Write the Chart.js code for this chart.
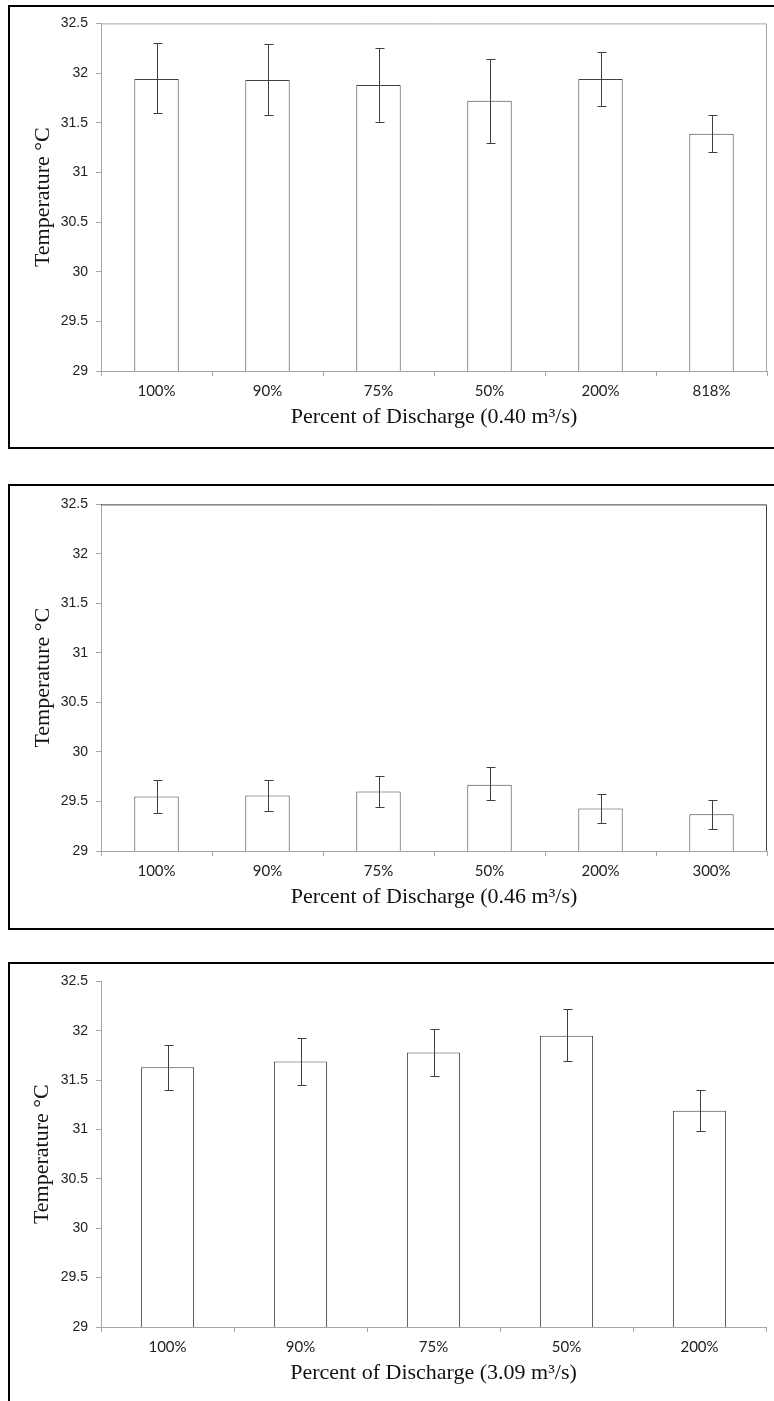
<!DOCTYPE html>
<html>
<head>
<meta charset="utf-8">
<script src="https://cdn.jsdelivr.net/npm/chart.js"></script>
<style>
  body { margin: 0; background: #fff; width: 774px; height: 1401px; overflow: hidden; position: relative; }
  .box { position: absolute; left: 8px; width: 790px; border: 2px solid #000; border-right: none; box-sizing: border-box; }
  canvas { position: absolute; left: 10px; }
</style>
</head>
<body>
<div class="box" style="top:5px;height:444px"></div>
<div class="box" style="top:484px;height:446px"></div>
<div class="box" style="top:962px;height:500px"></div>
<canvas id="chart1" width="764" height="439" style="top:7px"></canvas>
<canvas id="chart2" width="764" height="438" style="top:488px"></canvas>
<canvas id="chart3" width="764" height="437" style="top:965px"></canvas>
<script>
// Panel 1 - 0.40 m3/s
const labels1 = ['100%', '90%', '75%', '50%', '200%', '818%'];
const temp1 = [31.94, 31.93, 31.88, 31.72, 31.94, 31.39];
const low1 = [31.60, 31.58, 31.51, 31.30, 31.67, 31.21];
const high1 = [32.30, 32.29, 32.25, 32.14, 32.21, 31.58];

// Panel 2 - 0.46 m3/s
const labels2 = ['100%', '90%', '75%', '50%', '200%', '300%'];
const temp2 = [29.55, 29.56, 29.60, 29.67, 29.43, 29.37];
const low2 = [29.38, 29.40, 29.44, 29.51, 29.28, 29.22];
const high2 = [29.72, 29.72, 29.76, 29.85, 29.58, 29.52];

// Panel 3 - 3.09 m3/s
const labels3 = ['100%', '90%', '75%', '50%', '200%'];
const temp3 = [31.63, 31.69, 31.78, 31.95, 31.19];
const low3 = [31.40, 31.45, 31.54, 31.69, 30.98];
const high3 = [31.86, 31.93, 32.02, 32.22, 31.40];

const yTicks = { min: 29, max: 32.5, step: 0.5 };

// error bars drawn from the dataset's low/high arrays
const errorBarPlugin = {
  id: 'errorBars',
  afterDatasetsDraw(chart) {
    const ds = chart.data.datasets[0];
    const meta = chart.getDatasetMeta(0);
    const y = chart.scales.y;
    const ctx = chart.ctx;
    ctx.save();
    ctx.strokeStyle = '#404040';
    ctx.lineWidth = 1;
    meta.data.forEach((bar, i) => {
      const x = Math.round(bar.x) + 0.5;
      const top = Math.round(y.getPixelForValue(ds.errHigh[i])) + 0.5;
      const bot = Math.round(y.getPixelForValue(ds.errLow[i])) + 0.5;
      ctx.beginPath();
      ctx.moveTo(x, top); ctx.lineTo(x, bot);
      ctx.moveTo(x - 4, top); ctx.lineTo(x + 5, top);
      ctx.moveTo(x - 4, bot); ctx.lineTo(x + 5, bot);
      ctx.stroke();
    });
    ctx.restore();
  }
};

// top + right border of the plot area (panels 1 and 2 only)
const framePlugin = {
  id: 'frame',
  afterDraw(chart, args, opts) {
    if (!opts.color) return;
    const { ctx, chartArea: a } = chart;
    ctx.save();
    ctx.strokeStyle = opts.color;
    ctx.lineWidth = 1;
    ctx.beginPath();
    ctx.moveTo(a.left, a.top + 0.5);
    ctx.lineTo(a.right - 0.5, a.top + 0.5);
    ctx.lineTo(a.right - 0.5, a.bottom);
    ctx.stroke();
    ctx.restore();
  }
};

function makeChart(id, labels, values, low, high, flow, frameColor, padLeft, padRight) {
  return new Chart(document.getElementById(id), {
    type: 'bar',
    data: {
      labels: labels,
      datasets: [{
        data: values,
        errLow: low,
        errHigh: high,
        backgroundColor: '#ffffff',
        borderColor: '#404040',
        borderWidth: 1,
        barPercentage: 0.4,
        categoryPercentage: 1.0
      }]
    },
    options: {
      responsive: false,
      animation: false,
      layout: { padding: { top: 14, right: padRight, bottom: 0, left: padLeft } },
      scales: {
        x: {
          afterFit: s => { s.height = 75; },
          border: { color: '#a6a6a6' },
          grid: { drawOnChartArea: false, drawTicks: true, tickLength: 5, color: '#a6a6a6', offset: true },
          ticks: { color: '#222', padding: 6, font: { family: 'Lato', size: 15 } },
          title: {
            display: true,
            text: 'Percent of Discharge (' + flow + ' m\u00b3/s)',
            color: '#111',
            font: { family: 'Liberation Serif', size: 22 },
            padding: { top: 0, bottom: 16 }
          }
        },
        y: {
          min: yTicks.min,
          max: yTicks.max,
          afterFit: s => { s.width = 91 - padLeft; },
          border: { color: '#a6a6a6' },
          grid: { drawOnChartArea: false, drawTicks: true, tickLength: 5, color: '#a6a6a6' },
          ticks: {
            stepSize: yTicks.step,
            color: '#222',
            padding: 8,
            font: { family: 'Liberation Sans', size: 14 },
            callback: v => String(Math.round(v * 10) / 10)
          },
          title: {
            display: true,
            text: 'Temperature \u00b0C',
            color: '#111',
            font: { family: 'Liberation Serif', size: 22 },
            padding: { top: 0, bottom: 0 }
          }
        }
      },
      plugins: {
        legend: { display: false },
        tooltip: { enabled: false },
        frame: { color: frameColor }
      }
    },
    plugins: [errorBarPlugin, framePlugin]
  });
}

makeChart('chart1', labels1, temp1, low1, high1, '0.40', '#a6a6a6', 20, 7);
makeChart('chart2', labels2, temp2, low2, high2, '0.46', '#404040', 20, 7);
makeChart('chart3', labels3, temp3, low3, high3, '3.09', null, 19, 8);
</script>
</body>
</html>
